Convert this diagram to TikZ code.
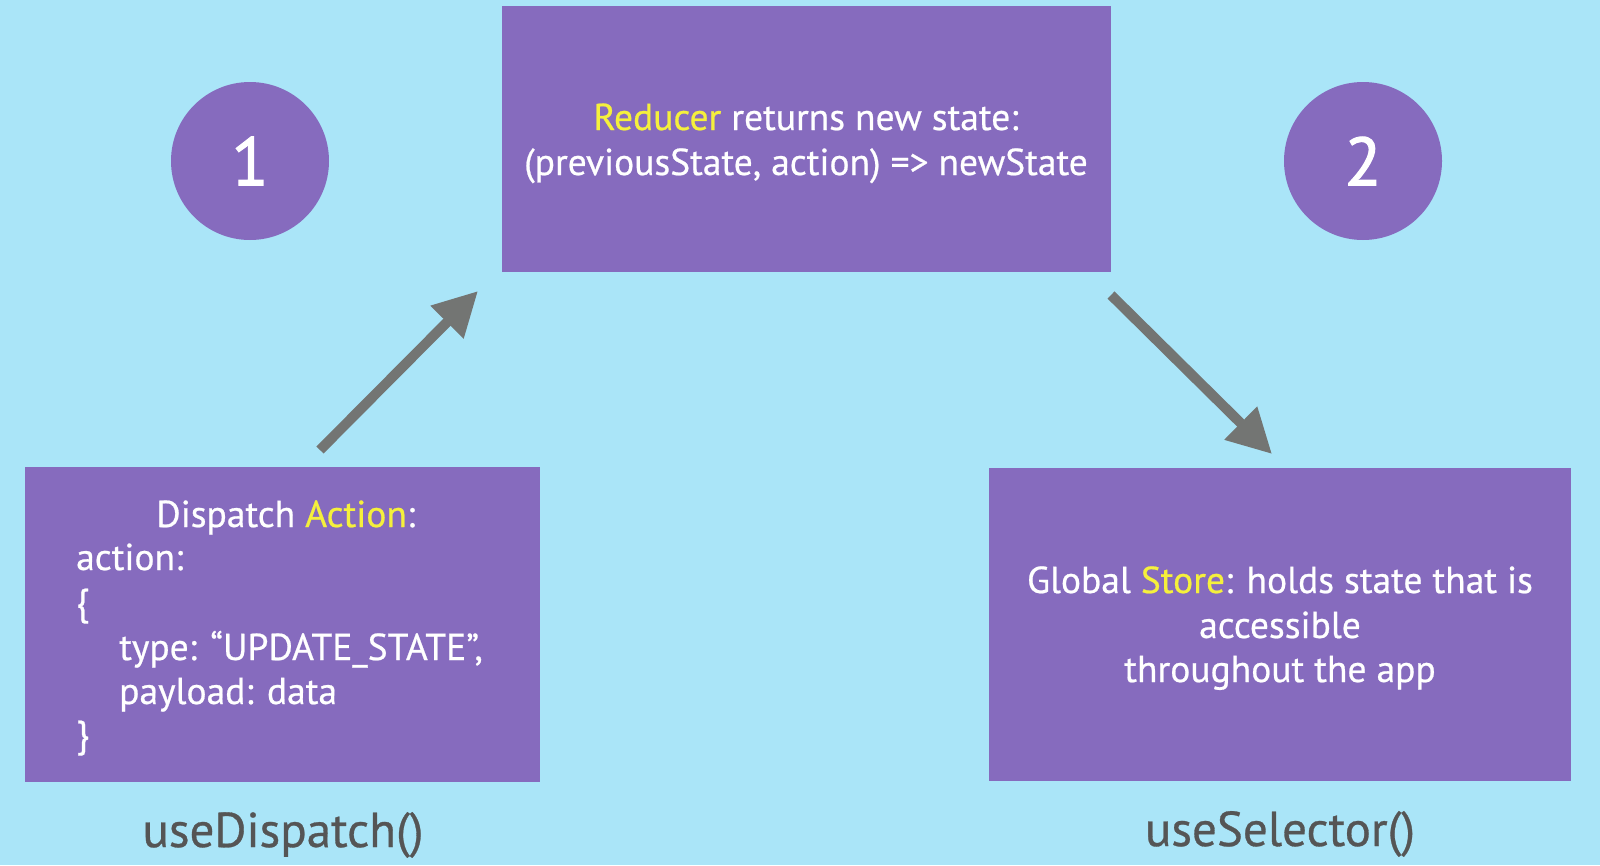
\documentclass[tikz,border=0pt]{standalone}
\usepackage{fontspec}
\setmainfont{PT Sans}
\newfontfamily\medfont{PT Sans}[FakeBold=0.6]
\newfontfamily\digfont{PT Sans}[FakeBold=1.6]
\usetikzlibrary{arrows.meta}
\definecolor{bgblue}{RGB}{170,229,248}
\definecolor{boxpurple}{RGB}{134,107,190}
\definecolor{hlyellow}{RGB}{245,240,60}
\definecolor{arrowgray}{RGB}{115,117,115}
\definecolor{labelgray}{RGB}{85,85,85}
\tikzset{
  boxnode/.style={fill=boxpurple, draw=none, inner sep=0pt, anchor=north west},
  circnode/.style={circle, fill=boxpurple, draw=none, inner sep=0pt, minimum size=158pt, text=white, font=\digfont\fontsize{68}{68}\selectfont},
  boxtext/.style={text=white, inner sep=0pt, font=\medfont\fontsize{37.5}{42}\selectfont},
  hooklabel/.style={text=labelgray, inner sep=0pt, anchor=base, font=\medfont\fontsize{49}{54}\selectfont},
  flowarrow/.style={draw=arrowgray, line width=10pt, -{Triangle[length=44pt,width=44pt]}}
}
\newcommand{\hl}[1]{\textcolor{hlyellow}{#1}}
\begin{document}
\begin{tikzpicture}[x=1pt,y=-1pt]
\useasboundingbox (0,0) rectangle (1600,865);
\fill[bgblue] (0,0) rectangle (1600,865);

% boxes
\node[boxnode, minimum width=609pt, minimum height=266pt] (reducer) at (502,6) {};
\node[boxnode, minimum width=515pt, minimum height=315pt] (dispatch) at (25,467) {};
\node[boxnode, minimum width=582pt, minimum height=313pt] (store) at (989,468) {};

% circles
\node[circnode] (c1) at (250,161) {1};
\node[circnode] (c2) at (1363,161) {2};

% reducer text
\node[boxtext, anchor=base] (r1) at (806,130) {\hl{Reducer} returns new state:};
\node[boxtext, anchor=base] (r2) at (806,175) {(previousState, action) => newState};

% dispatch text
\node[boxtext, anchor=base west] (d1) at (156,527) {Dispatch \hl{Action}:};
\node[boxtext, anchor=base west] (d2) at (76,570) {action:};
\node[boxtext, anchor=base west] (d3) at (76,615) {\{};
\node[boxtext, anchor=base west] (d4) at (119,660) {type: “UPDATE\_STATE”,};
\node[boxtext, anchor=base west] (d5) at (119,704) {payload: data};
\node[boxtext, anchor=base west] (d6) at (76,747) {\}};

% store text
\node[boxtext, anchor=base] (s1) at (1280,593) {Global \hl{Store}: holds state that is};
\node[boxtext, anchor=base] (s2) at (1280,638) {accessible};
\node[boxtext, anchor=base] (s3) at (1280,682) {throughout the app};

% hook labels
\node[hooklabel] (l1) at (283,847) {useDispatch()};
\node[hooklabel] (l2) at (1280,846) {useSelector()};

% arrows
\coordinate (a1s) at (320,450);
\coordinate (a1e) at (478,291);
\coordinate (a2s) at (1111,295);
\coordinate (a2e) at (1272,454);
\draw[flowarrow] (a1s) -- (a1e);
\draw[flowarrow] (a2s) -- (a2e);
\end{tikzpicture}
\end{document}
